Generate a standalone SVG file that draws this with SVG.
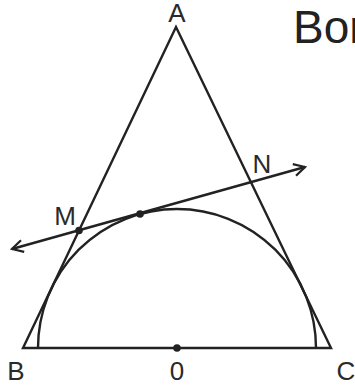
<svg xmlns="http://www.w3.org/2000/svg" width="355" height="387" viewBox="0 0 355 387">
<defs>
<style>
.ln{fill:none;stroke:#222;stroke-width:2.4;stroke-linejoin:miter}
.lb{font-family:"Liberation Sans",Arial,sans-serif;font-size:26px;fill:#2a2a2a;text-anchor:middle}
.dot{fill:#222}
</style>
<marker id="arr" viewBox="0 0 14 14" refX="12" refY="7" markerWidth="14" markerHeight="14" markerUnits="userSpaceOnUse" orient="auto-start-reverse">
<polyline points="1,1 12,7 1,13" fill="none" stroke="#222" stroke-width="2.2"/>
</marker>
</defs>
<rect width="355" height="387" fill="#fff"/>
<g id="triangle"><polygon class="ln" points="176,27 23,348 331,348"/></g>
<g id="semicircle"><path class="ln" d="M38,348 A139,139 0 0 1 316,348"/></g>
<g id="connectors">
<line class="ln" x1="12" y1="249" x2="305" y2="167" marker-start="url(#arr)" marker-end="url(#arr)"/>
</g>
<g id="M"><circle class="dot" cx="79" cy="230.5" r="3.8"/><text class="lb" x="65" y="225">M</text></g>
<g id="T"><circle class="dot" cx="140" cy="214" r="3.8"/></g>
<g id="N"><text class="lb" x="262" y="173">N</text></g>
<g id="A"><text class="lb" x="177" y="22">A</text></g>
<g id="B"><text class="lb" x="16" y="380">B</text></g>
<g id="O"><circle class="dot" cx="177" cy="348" r="3.8"/><text class="lb" x="177" y="380">0</text></g>
<g id="C"><text class="lb" x="346" y="380">C</text></g>
<text x="293" y="43" style="font-family:'Liberation Sans',Arial,sans-serif;font-size:46px;fill:#222">Bor</text>
</svg>
